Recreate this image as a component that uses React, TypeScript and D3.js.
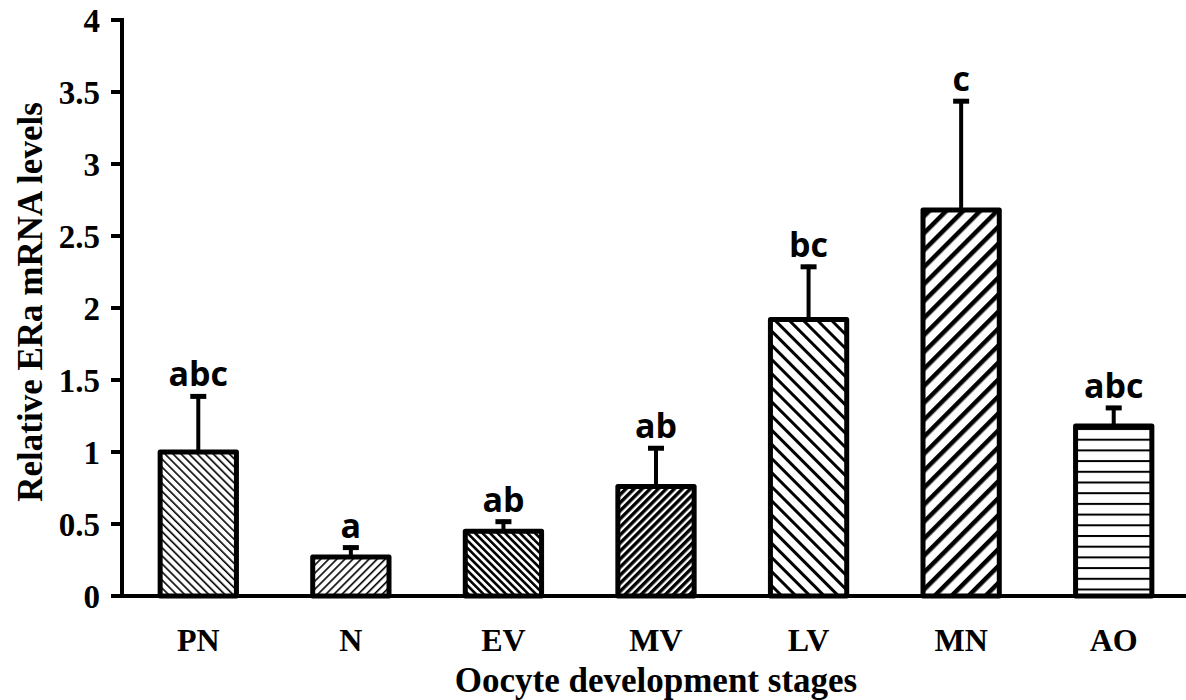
import React from "react";
import * as d3 from "d3";

const categories = ["PN", "N", "EV", "MV", "LV", "MN", "AO"];
const means = [1.0, 0.27, 0.45, 0.76, 1.92, 2.68, 1.18];
const upperErrors = [1.4, 0.35, 0.53, 1.04, 2.3, 3.45, 1.32];
const letters = ["abc", "a", "ab", "ab", "bc", "c", "abc"];
const yTicks = [0, 0.5, 1, 1.5, 2, 2.5, 3, 3.5, 4];

// pattern specs: angle, period (perpendicular), line thickness
const patterns = [
  { angle: -45, period: 5.7, thick: 1.6 },
  { angle: 45, period: 5.7, thick: 1.6 },
  { angle: -45, period: 5.3, thick: 2.6 },
  { angle: 45, period: 5.7, thick: 3.4 },
  { angle: -45, period: 10, thick: 3 },
  { angle: 45, period: 12, thick: 4.5 },
  { angle: 90, period: 10.7, thick: 2 },
];

const W = 1186;
const H = 700;
const left = 122;
const right = 1190;
const top = 20;
const bottom = 596;

export default function App() {
  const x = d3.scaleBand<string>().domain(categories).range([left, right]).paddingInner(0.5).paddingOuter(0.25);
  const y = d3.scaleLinear().domain([0, 4]).range([bottom, top]);
  const bw = x.bandwidth();
  const serif = "'Liberation Serif', 'Times New Roman', serif";

  return (
    <svg width={W} height={H} style={{ position: "absolute", left: 0, top: 0, background: "#fff" }}>
      <defs>
        {patterns.map((p, i) => (
          <pattern
            key={i}
            id={`pat${i}`}
            patternUnits="userSpaceOnUse"
            width={p.period}
            height={p.period}
            patternTransform={`rotate(${p.angle})`}
          >
            <rect x={0} y={0} width={p.period} height={p.period} fill="#fff" />
            <rect x={0} y={0} width={p.thick} height={p.period} fill="#000" />
          </pattern>
        ))}
      </defs>

      {/* bars */}
      {categories.map((c, i) => {
        const x0 = x(c)!;
        const cx = x0 + bw / 2;
        const yt = y(means[i]);
        const ye = y(upperErrors[i]);
        return (
          <g key={c}>
            <line x1={cx} x2={cx} y1={yt} y2={ye} stroke="#000" strokeWidth={4} />
            <line x1={cx - 8} x2={cx + 8} y1={ye + 2} y2={ye + 2} stroke="#000" strokeWidth={5} />
            <rect
              x={x0}
              y={yt}
              width={bw}
              height={y(0) - yt}
              fill={`url(#pat${i})`}
              stroke="#000"
              strokeWidth={5}
              strokeLinejoin="round"
            />
            <text
              x={cx}
              y={ye - 8}
              textAnchor="middle"
              fontFamily="'Open Sans', sans-serif"
              fontWeight="bold"
              fontSize={34}
              fill="#000"
            >
              {letters[i]}
            </text>
            <text
              x={cx}
              y={651}
              textAnchor="middle"
              fontFamily={serif}
              fontWeight="bold"
              fontSize={32}
              fill="#000"
            >
              {c}
            </text>
          </g>
        );
      })}

      {/* y axis */}
      <line x1={left} x2={left} y1={top - 2} y2={bottom + 2} stroke="#000" strokeWidth={4} />
      {yTicks.map((t) => (
        <g key={t}>
          <line x1={left - 11} x2={left} y1={y(t)} y2={y(t)} stroke="#000" strokeWidth={4} />
          <text
            x={100}
            y={y(t)}
            dy="0.35em"
            textAnchor="end"
            fontFamily={serif}
            fontWeight="bold"
            fontSize={33}
            fill="#000"
          >
            {String(t)}
          </text>
        </g>
      ))}
      {/* x axis */}
      <line x1={left - 11} x2={W} y1={bottom} y2={bottom} stroke="#000" strokeWidth={4} />

      <text
        transform={`translate(42, 302) rotate(-90)`}
        textAnchor="middle"
        fontFamily={serif}
        fontWeight="bold"
        fontSize={35}
        fill="#000"
      >
        Relative ERa mRNA levels
      </text>
      <text
        x={656}
        y={692}
        textAnchor="middle"
        fontFamily={serif}
        fontWeight="bold"
        fontSize={35}
        fill="#000"
      >
        Oocyte development stages
      </text>
    </svg>
  );
}
